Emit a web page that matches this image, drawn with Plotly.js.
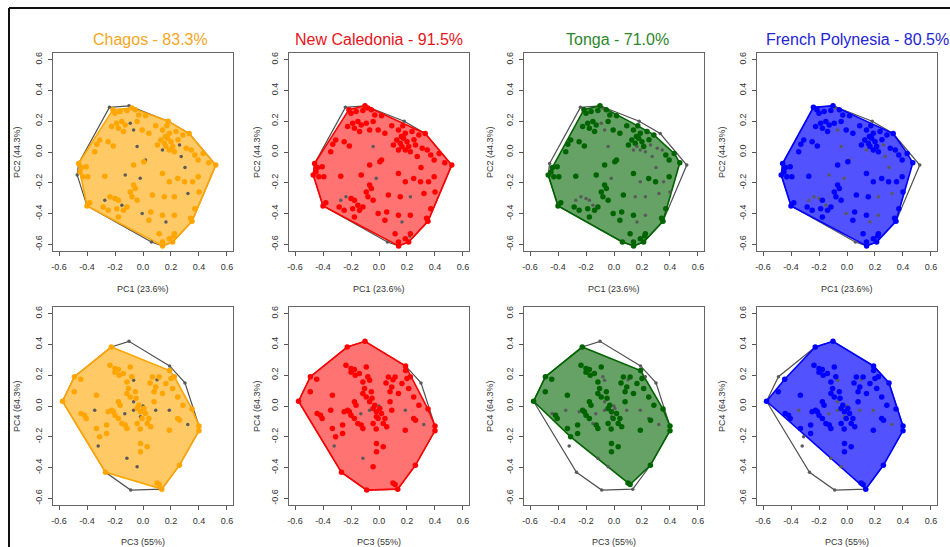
<!DOCTYPE html>
<html><head><meta charset="utf-8">
<script src="https://cdn.plot.ly/plotly-3.0.1.min.js"></script>
<style>html,body{margin:0;padding:0;background:#fff}#chart{width:950px;height:547px}</style>
</head><body><div id="chart"></div>
<script>
// ---------- data ----------
const regions = ['Chagos', 'New Caledonia', 'Tonga', 'French Polynesia'];
const overlapPct = ['83.3%', '91.5%', '71.0%', '80.5%'];
const regionColors = ['#FFA500', '#FF0000', '#006400', '#0000FF'];
const titleColors = ['#F5A623', '#E8141A', '#2E862E', '#2424D6'];
const fillColors = ['rgba(255,165,0,0.6)', 'rgba(255,0,0,0.55)', 'rgba(0,100,0,0.6)', 'rgba(0,0,255,0.68)'];

const xTitleTop = 'PC1 (23.6%)', yTitleTop = 'PC2 (44.3%)';
const xTitleBottom = 'PC3 (55%)', yTitleBottom = 'PC4 (64.3%)';
const tickVals = [-0.6, -0.4, -0.2, 0.0, 0.2, 0.4, 0.6];
const tickLabels = ['-0.6', '-0.4', '-0.2', '0.0', '0.2', '0.4', '0.6'];

// top row: PC1 vs PC2 (all samples)
const pc1 = [
 -0.24, -0.10, 0.18, 0.33, 0.52, 0.35, 0.22, 0.14, 0.06, -0.40,
 -0.47, -0.46, -0.215, -0.08, 0.47, -0.20, -0.164, -0.115, -0.055, -0.030,
 0.018, -0.188, -0.151, -0.127, -0.176, -0.091, -0.042, -0.224, -0.139, -0.067,
 -0.006, 0.042, 0.091, 0.139, 0.188, 0.236, 0.285, 0.127, 0.152, 0.176,
 0.20, 0.164, 0.212, 0.188, 0.224, 0.139, 0.103, 0.261, 0.309, 0.345,
 0.37, 0.394, 0.43, 0.273, -0.309, -0.249, -0.212, -0.345, -0.042, 0.018,
 0.006, -0.067, -0.44, -0.45, -0.43, -0.394, -0.406, -0.273, -0.127, -0.067,
 -0.055, -0.091, -0.079, -0.042, 0.139, 0.188, 0.248, 0.297, 0.394, 0.354,
 -0.273, -0.236, -0.20, -0.176, -0.151, -0.115, -0.139, -0.38, -0.285, -0.249,
 -0.188, -0.176, -0.006, 0.055, 0.067, 0.152, 0.224, 0.321, 0.042, 0.139,
 0.164, 0.224, 0.34, 0.37, 0.115, 0.139, 0.188, 0.224, 0.212, 0.40,
 -0.33, 0.30, -0.02, 0.25, 0.16, 0.17
];
const pc2 = [
 0.29, 0.30, 0.20, 0.12, -0.085, -0.45, -0.545, -0.61, -0.585, -0.35,
 -0.15, -0.075, 0.275, 0.285, -0.07, 0.252, 0.263, 0.269, 0.274, 0.241,
 0.235, 0.187, 0.198, 0.176, 0.154, 0.187, 0.198, 0.165, 0.133, 0.143,
 0.143, 0.122, 0.17, 0.143, 0.122, 0.133, 0.111, 0.078, 0.057, 0.089,
 0.067, 0.035, 0.035, 0.013, 0.002, 0.013, 0.046, 0.046, 0.024, 0.013,
 -0.02, -0.052, -0.009, -0.03, 0.078, 0.067, 0.039, 0.002, 0.035, -0.052,
 -0.063, -0.085, -0.10, -0.13, -0.16, -0.161, -0.096, -0.157, -0.15, -0.215,
 -0.237, -0.259, -0.291, -0.313, -0.139, -0.194, -0.172, -0.194, -0.161, -0.194,
 -0.313, -0.291, -0.302, -0.313, -0.346, -0.357, -0.378, -0.33, -0.357, -0.378,
 -0.368, -0.422, -0.40, -0.389, -0.28, -0.291, -0.291, -0.27, -0.444, -0.411,
 -0.455, -0.411, -0.43, -0.368, -0.531, -0.585, -0.563, -0.531, -0.585, -0.26,
 0.05, -0.10, -0.17, 0.08, 0.10, 0.17
];
// samples outside each region (top row)
const chagosOutTop = [0, 1, 8, 10, 58, 45, 53, 47, 111, 112, 80, 84, 92, 100, 97, 68, 25, 29, 59];
const caledoniaOutTop = [0, 2, 6, 8, 58, 80, 81, 100, 96, 112];
const tongaOutTop = [0, 2, 3, 4, 11, 13, 45, 41, 43, 44, 53, 47, 48, 49, 111, 112, 58, 80, 81, 82, 83, 84, 96, 97, 100, 101, 109, 79, 29, 25, 75, 95];
const polynesiaOutTop = [2, 4, 8, 13, 58, 45, 53, 111, 112, 80, 81, 82, 84, 92, 100, 97, 68, 29, 59, 47, 101, 96];

// bottom row: PC3 vs PC4 (all samples)
const pc3 = [
 -0.10, 0.19, 0.30, 0.35, 0.40, 0.40, 0.26, 0.134, -0.088, -0.268,
 -0.575, -0.49, -0.227, -0.445, 0.10, -0.32, -0.31, 0.19, -0.236, -0.20,
 -0.176, -0.14, -0.091, -0.115, -0.067, -0.103, -0.055, -0.115, -0.091, -0.176,
 -0.164, -0.067, -0.03, 0.006, -0.018, -0.042, -0.067, 0.018, -0.006, 0.042,
 0.03, 0.055, -0.212, -0.20, -0.224, -0.249, -0.176, -0.151, -0.115, -0.127,
 -0.042, -0.018, 0.091, 0.115, 0.067, 0.079, 0.139, 0.164, 0.212, 0.248,
 0.285, 0.20, 0.224, 0.079, 0.091, 0.188, 0.248, 0.261, 0.188, -0.491,
 -0.442, -0.406, -0.418, -0.345, -0.333, -0.333, -0.26, -0.26, -0.115, -0.018,
 0.03, -0.018, -0.042, 0.115, -0.20, -0.17, 0.10, -0.08, 0.0, -0.05,
 0.32, 0.05, -0.13, -0.02
];
const pc4 = [
 0.42, 0.26, 0.15, -0.02, -0.13, -0.16, -0.385, -0.54, -0.546, -0.431,
 0.031, 0.19, 0.383, 0.174, -0.50, -0.26, -0.20, 0.23, 0.265, 0.243,
 0.237, 0.211, 0.254, 0.156, 0.167, 0.113, 0.092, 0.081, 0.059, 0.027,
 0.005, 0.027, 0.005, -0.016, -0.038, -0.016, -0.027, -0.049, -0.081, -0.081,
 -0.113, -0.135, -0.038, -0.06, -0.027, -0.038, -0.081, -0.113, -0.146, -0.124,
 -0.113, -0.07, 0.124, 0.189, 0.189, 0.092, 0.081, 0.146, 0.113, 0.059,
 0.005, 0.178, 0.19, 0.027, -0.027, -0.027, -0.081, -0.092, -0.157, 0.092,
 -0.049, -0.081, -0.06, -0.027, 0.07, -0.146, -0.124, -0.178, -0.34, -0.243,
 -0.265, -0.297, -0.395, -0.51, 0.22, 0.20, 0.17, 0.19, 0.0, 0.05,
 -0.12, 0.15, -0.05, -0.15
];
const chagosOutBottom = [0, 1, 2, 8, 15, 78, 82, 73, 31, 36, 88, 92, 65, 90, 86, 24, 64, 51];
const caledoniaOutBottom = [2, 15, 78, 36, 88, 92, 90, 65];
const tongaOutBottom = [0, 1, 2, 7, 8, 9, 15, 78, 82, 73, 31, 36, 88, 92, 65, 90, 86, 24, 64, 51, 33, 45, 47, 70, 66, 62, 87];
const polynesiaOutBottom = [8, 9, 11, 15, 16, 78, 82, 73, 31, 36, 88, 92, 65, 90, 86, 24, 64, 51];

// ---------- helpers ----------
function convexHull(idx, xs, ys) {
  const pts = idx.map(i => [xs[i], ys[i]]).sort((a, b) => a[0] - b[0] || a[1] - b[1]);
  const cross = (o, a, b) => (a[0] - o[0]) * (b[1] - o[1]) - (a[1] - o[1]) * (b[0] - o[0]);
  const lower = [];
  for (const p of pts) { while (lower.length >= 2 && cross(lower[lower.length - 2], lower[lower.length - 1], p) <= 0) lower.pop(); lower.push(p); }
  const upper = [];
  for (let i = pts.length - 1; i >= 0; i--) { const p = pts[i]; while (upper.length >= 2 && cross(upper[upper.length - 2], upper[upper.length - 1], p) <= 0) upper.pop(); upper.push(p); }
  upper.pop(); lower.pop();
  const h = lower.concat(upper); h.push(h[0]);
  return h;
}

const FONT = 'Liberation Sans, Arial, Helvetica, sans-serif';
const W = 950, H = 547;
const colBoxes = [[53, 233], [289, 469], [524, 704], [757, 937]];
const rowBoxes = [[53, 251], [307, 505]];
const titleCx = [150, 379, 617, 857];
const yTitleX = [17, 257, 490, 722];
const R = 0.643;

const outTop = [chagosOutTop, caledoniaOutTop, tongaOutTop, polynesiaOutTop];
const outBottom = [chagosOutBottom, caledoniaOutBottom, tongaOutBottom, polynesiaOutBottom];

const traces = [];
const layout = {
  width: W, height: H, margin: {l: 0, r: 0, t: 0, b: 0},
  paper_bgcolor: '#fff', plot_bgcolor: '#fff', showlegend: false,
  font: {family: FONT, color: '#333'},
  annotations: [], shapes: []
};

for (let p = 0; p < 8; p++) {
  const row = p < 4 ? 0 : 1, col = p % 4;
  const xs = row === 0 ? pc1 : pc3, ys = row === 0 ? pc2 : pc4;
  const outs = row === 0 ? outTop[col] : outBottom[col];
  const outSet = new Set(outs);
  const all = xs.map((_, i) => i);
  const ins = all.filter(i => !outSet.has(i));
  const n = p === 0 ? '' : String(p + 1);
  const xa = 'x' + n, ya = 'y' + n;

  const hAll = convexHull(all, xs, ys);
  const hIn = convexHull(ins, xs, ys);
  traces.push({x: hAll.map(q => q[0]), y: hAll.map(q => q[1]), mode: 'lines', line: {color: '#505050', width: 1.2}, xaxis: xa, yaxis: ya, hoverinfo: 'skip'});
  traces.push({x: hIn.map(q => q[0]), y: hIn.map(q => q[1]), mode: 'lines', fill: 'toself', fillcolor: fillColors[col], line: {color: regionColors[col], width: 1.6}, xaxis: xa, yaxis: ya, hoverinfo: 'skip'});
  traces.push({x: outs.map(i => xs[i]), y: outs.map(i => ys[i]), mode: 'markers', marker: {size: 3.5, color: '#5a5a5a'}, xaxis: xa, yaxis: ya});
  traces.push({x: ins.map(i => xs[i]), y: ins.map(i => ys[i]), mode: 'markers', marker: {size: 5.5, color: regionColors[col]}, xaxis: xa, yaxis: ya});

  const cb = colBoxes[col], rb = rowBoxes[row];
  const common = {range: [-R, R], tickvals: tickVals, ticktext: tickLabels, ticks: 'outside', ticklen: 4, tickwidth: 1,
    tickcolor: '#555', showline: true, mirror: true, linecolor: '#666', linewidth: 1, showgrid: false, zeroline: false,
    tickfont: {family: FONT, size: 9, color: '#333'}, fixedrange: true};
  layout['xaxis' + n] = Object.assign({}, common, {domain: [cb[0] / W, cb[1] / W], anchor: ya, ticklabelstandoff: 3});
  layout['yaxis' + n] = Object.assign({}, common, {domain: [1 - rb[1] / H, 1 - rb[0] / H], anchor: xa, tickangle: -90, ticklabelstandoff: 2});

  const cx = (cb[0] + cb[1]) / 2 / W;
  layout.annotations.push({text: row === 0 ? xTitleTop : xTitleBottom, xref: 'paper', yref: 'paper', x: cx,
    y: 1 - (row === 0 ? 289 : 542) / H, xanchor: 'center', yanchor: 'middle', showarrow: false, font: {family: FONT, size: 9, color: '#333'}});
  layout.annotations.push({text: row === 0 ? yTitleTop : yTitleBottom, xref: 'paper', yref: 'paper', x: yTitleX[col] / W,
    y: 1 - ((rb[0] + rb[1]) / 2) / H, xanchor: 'center', yanchor: 'middle', textangle: -90, showarrow: false, font: {family: FONT, size: 9, color: '#333'}});
  if (row === 0) {
    layout.annotations.push({text: regions[col] + ' - ' + overlapPct[col], xref: 'paper', yref: 'paper', x: titleCx[col] / W,
      y: 1 - 39.5 / H, xanchor: 'center', yanchor: 'middle', showarrow: false, font: {family: FONT, size: 16, color: titleColors[col]}});
  }
}

// outer frame
layout.shapes.push({type: 'line', xref: 'paper', yref: 'paper', x0: 9 / W, x1: 9 / W, y0: 0, y1: 1 - 8 / H, line: {color: '#111', width: 2}});
layout.shapes.push({type: 'line', xref: 'paper', yref: 'paper', x0: 9 / W, x1: 1, y0: 1 - 8 / H, y1: 1 - 8 / H, line: {color: '#111', width: 2}});

Plotly.newPlot('chart', traces, layout, {staticPlot: true, displayModeBar: false});
</script>
</body></html>
